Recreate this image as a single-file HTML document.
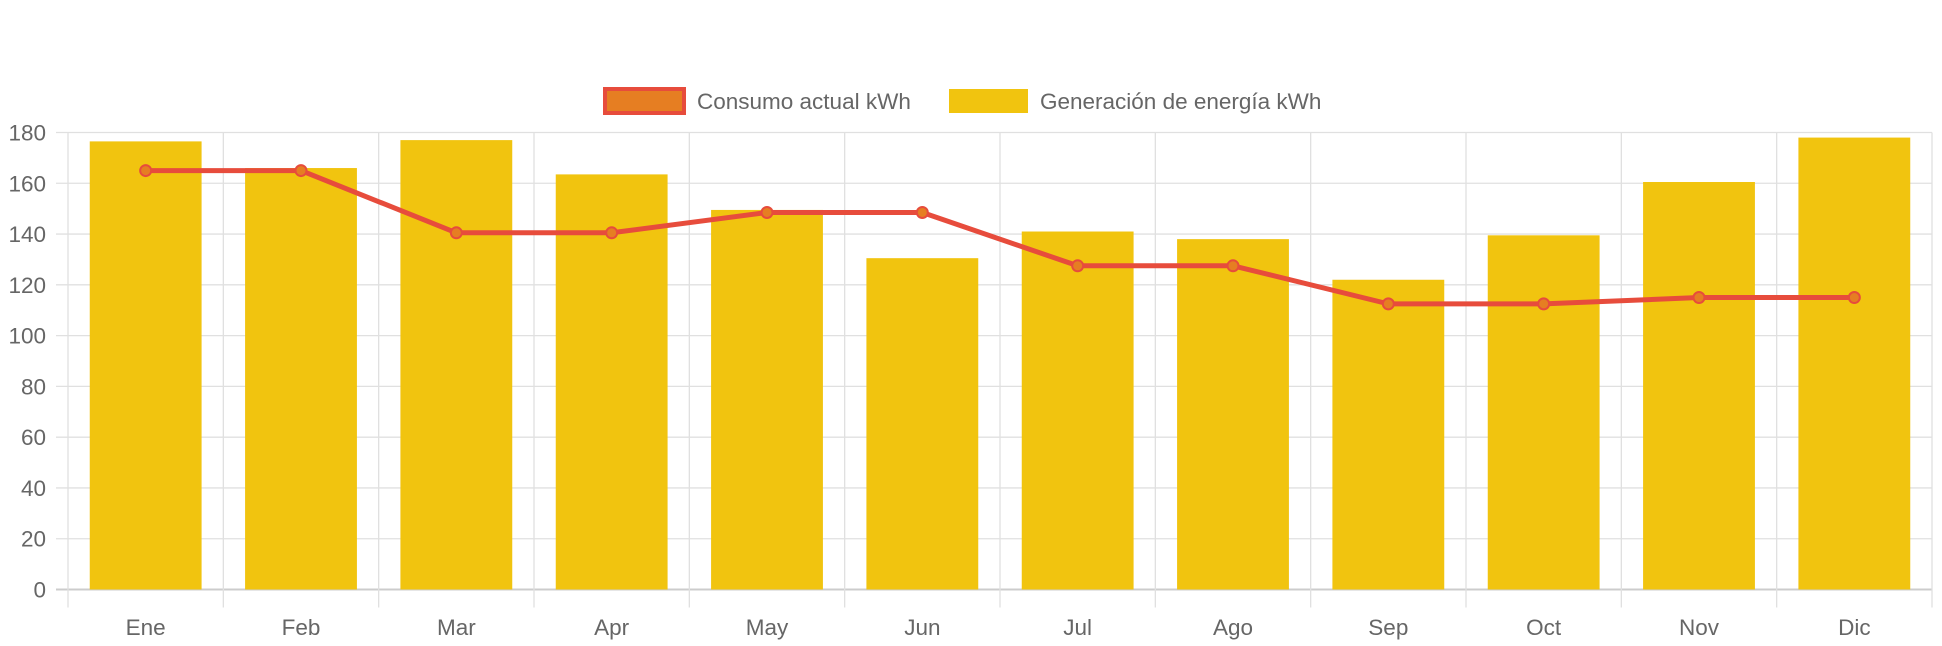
<!DOCTYPE html>
<html><head><meta charset="utf-8"><style>
html,body{margin:0;padding:0;background:#fff;}
svg{display:block;font-family:"Liberation Sans",sans-serif;}
</style></head><body>
<svg id="chart" width="1942" height="646">
<g id="grid"></g>
<g id="bars"></g>
<g id="line"></g>
<g id="axes"></g>
<g>
  <g>
    <rect x="605" y="89" width="79" height="24" fill="#e67e22" stroke="#e74c3c" stroke-width="4"/>
    <text x="697" y="109" font-size="22.5" fill="#666">Consumo actual kWh</text>
  </g>
  <g>
    <rect x="949" y="89" width="79" height="24" fill="#f1c40f"/>
    <text x="1040" y="109" font-size="22.5" fill="#666">Generación de energía kWh</text>
  </g>
</g>
</svg>
<script>
const categories=["Ene","Feb","Mar","Apr","May","Jun","Jul","Ago","Sep","Oct","Nov","Dic"];
const generacion=[176.5,166,177,163.5,149.5,130.5,141,138,122,139.5,160.5,178];
const consumo=[165,165,140.5,140.5,148.5,148.5,127.5,127.5,112.5,112.5,115,115];
const yTicks=[0,20,40,60,80,100,120,140,160,180];
const L=68,R=1932,T=132.5,B=589.5,YMAX=180;
const cw=(R-L)/categories.length;
const y=v=>B-(v/YMAX)*(B-T);
const xc=i=>L+cw*(i+0.5);
const NS="http://www.w3.org/2000/svg";
function mk(tag,attrs,parent){const e=document.createElementNS(NS,tag);for(const k in attrs)e.setAttribute(k,attrs[k]);parent.appendChild(e);return e;}
const grid=document.getElementById('grid'),bars=document.getElementById('bars'),line=document.getElementById('line'),axes=document.getElementById('axes');
yTicks.forEach(t=>{
  const g=mk('line',{x1:L-12,x2:R,y1:y(t),y2:y(t),stroke:t===0?'#ccc':'#e0e0e0','stroke-width':t===0?2:1.3},grid);
  
  
  const tx=mk('text',{x:46,y:y(t)+8,'text-anchor':'end','font-size':22.5,fill:'#666'},axes);
  tx.textContent=t;
  
  
});
for(let i=0;i<=categories.length;i++){
  const g=mk('line',{x1:L+cw*i,x2:L+cw*i,y1:T,y2:B+18,stroke:'#e0e0e0','stroke-width':1.3},grid);
  
  
}
categories.forEach((c,i)=>{
  const bw=cw*0.72;
  const r=mk('rect',{x:xc(i)-bw/2,y:y(generacion[i]),width:bw,height:B-y(generacion[i]),fill:'#f1c40f'},bars);
  
  
  const tx=mk('text',{x:xc(i),y:635,'text-anchor':'middle','font-size':22.5,fill:'#666'},axes);
  tx.textContent=c;
  
  
});
const p=mk('polyline',{points:consumo.map((v,i)=>xc(i)+','+y(v)).join(' '),fill:'none',stroke:'#e74c3c','stroke-width':5,'stroke-linejoin':'round'},line);


consumo.forEach((v,i)=>{
  const c=mk('circle',{cx:xc(i),cy:y(v),r:5.5,fill:'#e67e22',stroke:'#e74c3c','stroke-width':2},line);
  
  
});
</script>
</body></html>
